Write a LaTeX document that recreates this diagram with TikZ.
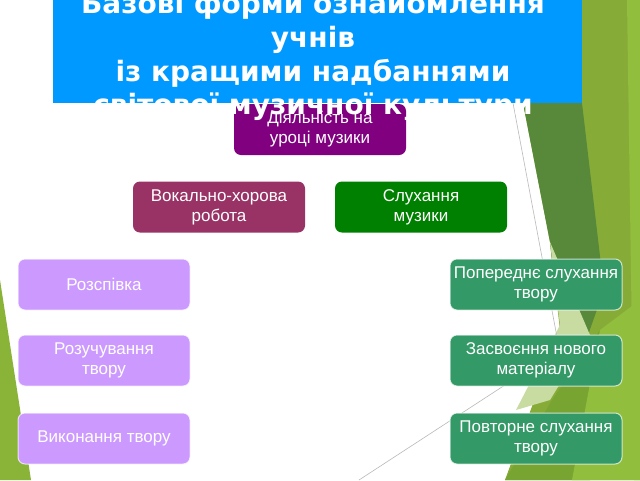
\documentclass[tikz,border=0pt]{standalone}
\usepackage{fontspec}
\setmainfont{Liberation Sans}
\newfontfamily\titlefont{DejaVu Sans}
\definecolor{titleblue}{RGB}{0,153,255}
\definecolor{actpurple}{RGB}{128,0,128}
\definecolor{vokplum}{RGB}{153,51,102}
\definecolor{sluhgreen}{RGB}{0,128,0}
\definecolor{lilac}{RGB}{204,153,255}
\definecolor{seagreen}{RGB}{51,153,102}
\definecolor{olive}{RGB}{134,172,55}
\definecolor{darkfacet}{RGB}{88,137,58}
\definecolor{palefacet}{RGB}{200,219,160}
\definecolor{lightfacet}{RGB}{146,190,62}
\definecolor{midfacet}{RGB}{120,164,50}
\definecolor{leftgreen}{RGB}{137,180,55}
\begin{document}
\begin{tikzpicture}[x=1pt,y=-1pt,
  box/.style={rounded corners=7pt, minimum width=172pt, minimum height=51pt,
    inner sep=0pt, align=center, text=white, font=\fontsize{17}{20}\selectfont},
  lowbox/.style={box, draw=white, draw opacity=0.7, line width=1pt},
  ttl/.style={anchor=base, text=white, inner sep=0pt,
    font=\titlefont\bfseries\fontsize{28}{33}\selectfont},
  edge/.style={draw=gray!55, line width=0.6pt}]
\useasboundingbox (0,0) rectangle (640,480);
\begin{scope}
\clip (0,0) rectangle (640,480);
% background facets
\fill[white] (0,0) rectangle (640,480);
\fill[leftgreen] (0,280) -- (0,480) -- (31,480) -- cycle;
\fill[olive] (560,0) -- (640,0) -- (640,480) -- (505,480) -- (560,330) -- (550,242) -- (523,103) -- (540,0) -- cycle;
\fill[midfacet] (505,480) -- (552,400) -- (600,330) -- (590,480) -- cycle;
\fill[lightfacet] (600,330) -- (640,300) -- (640,480) -- (572,480) -- cycle;
\fill[lightfacet] (627,0) -- (640,0) -- (640,480) -- (634,480) -- cycle;
\fill[darkfacet] (523,103) -- (582,103) -- (604,290) -- (588,335) -- (556,300) -- (550,242) -- cycle;
\fill[palefacet] (550,242) -- (590,335) -- (550,400) -- (516,410) -- (560,325) -- cycle;
% thin edges
\coordinate (e1a) at (513,103);
\coordinate (e1b) at (566,385);
\coordinate (e2a) at (359,480);
\coordinate (e2b) at (505,385);
\draw[edge] (e1a) -- (e1b);
\draw[edge] (e2a) -- (e2b);
% title box
\fill[titleblue] (53,-2) rectangle (582,103);
% boxes
\node[box, fill=actpurple] (act) at (320,129.5) {Діяльність на\\уроці музики};
\node[box, fill=vokplum] (vok) at (219,207) {Вокально-хорова\\робота};
\node[box, fill=sluhgreen] (sluh) at (421,207) {Слухання\\музики};
\node[lowbox, fill=lilac] (rozsp) at (104,284.5) {Розспівка};
\node[lowbox, fill=lilac] (rozuch) at (104,360.5) {Розучування\\твору};
\node[lowbox, fill=lilac] (vykon) at (104,438.5) {Виконання твору};
\node[lowbox, fill=seagreen] (poper) at (536,284.5) {Попереднє слухання\\твору};
\node[lowbox, fill=seagreen] (zasv) at (536,360.5) {Засвоєння нового\\матеріалу};
\node[lowbox, fill=seagreen] (povt) at (536,438.5) {Повторне слухання\\твору};
% title text on top
\node[ttl] (t1) at (313,13) {Базові форми ознайомлення};
\node[ttl] (t2) at (313,47) {учнів};
\node[ttl] (t3) at (313,81) {із кращими надбаннями};
\node[ttl] (t4) at (313,114) {світової музичної культури};
\end{scope}
\end{tikzpicture}
\end{document}
